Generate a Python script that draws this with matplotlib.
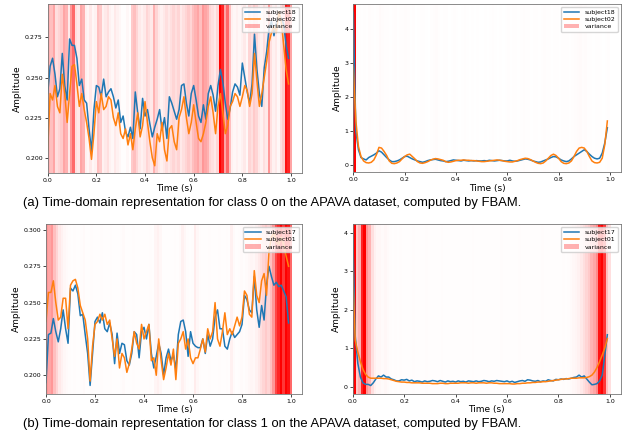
import numpy as np
import matplotlib
matplotlib.use("Agg")
import matplotlib.pyplot as plt
from matplotlib.colors import LinearSegmentedColormap, PowerNorm
from matplotlib.patches import Patch
from matplotlib.lines import Line2D
from matplotlib.ticker import MultipleLocator

# time grid (100 samples over 1 s)
t = np.arange(100) / 100

# ---- class 0, time domain (top left)
c0_s18 = [0.240, 0.257, 0.262, 0.252, 0.238, 0.243, 0.265, 0.245, 0.236, 0.274,
          0.270, 0.270, 0.262, 0.245, 0.249, 0.236, 0.234, 0.218, 0.204, 0.230,
          0.245, 0.244, 0.238, 0.249, 0.238, 0.241, 0.243, 0.238, 0.231, 0.236,
          0.222, 0.226, 0.216, 0.213, 0.219, 0.212, 0.241, 0.228, 0.218, 0.237,
          0.226, 0.230, 0.221, 0.213, 0.219, 0.224, 0.230, 0.217, 0.225, 0.212,
          0.238, 0.234, 0.229, 0.224, 0.230, 0.245, 0.246, 0.234, 0.226, 0.240,
          0.245, 0.236, 0.226, 0.222, 0.233, 0.224, 0.240, 0.245, 0.239, 0.229,
          0.245, 0.255, 0.247, 0.234, 0.224, 0.231, 0.241, 0.246, 0.244, 0.239,
          0.259, 0.250, 0.241, 0.234, 0.246, 0.277, 0.255, 0.240, 0.232, 0.256,
          0.266, 0.281, 0.285, 0.276, 0.284, 0.289, 0.287, 0.283, 0.270, 0.262]
c0_s02 = [0.205, 0.240, 0.236, 0.245, 0.232, 0.228, 0.252, 0.240, 0.222, 0.240,
          0.257, 0.258, 0.246, 0.232, 0.240, 0.230, 0.222, 0.212, 0.199, 0.215,
          0.235, 0.228, 0.240, 0.230, 0.232, 0.238, 0.236, 0.225, 0.220, 0.228,
          0.215, 0.212, 0.218, 0.208, 0.215, 0.205, 0.218, 0.228, 0.213, 0.220,
          0.235, 0.222, 0.210, 0.200, 0.195, 0.215, 0.210, 0.222, 0.205, 0.198,
          0.218, 0.220, 0.210, 0.205, 0.225, 0.230, 0.238, 0.225, 0.215, 0.222,
          0.233, 0.222, 0.212, 0.210, 0.215, 0.222, 0.232, 0.238, 0.228, 0.215,
          0.232, 0.240, 0.228, 0.215, 0.220, 0.232, 0.235, 0.240, 0.238, 0.232,
          0.238, 0.245, 0.242, 0.232, 0.240, 0.265, 0.248, 0.232, 0.240, 0.250,
          0.260, 0.272, 0.278, 0.282, 0.278, 0.291, 0.285, 0.270, 0.255, 0.246]
c0_var = [0.45, 0.40, 0.50, 0.25, 0.30, 0.35, 0.50, 0.45, 0.20, 0.55,
          0.70, 0.25, 0.20, 0.50, 0.45, 0.15, 0.10, 0.20, 0.10, 0.15,
          0.40, 0.35, 0.15, 0.20, 0.25, 0.15, 0.10, 0.20, 0.15, 0.10,
          0.05, 0.05, 0.10, 0.05, 0.35, 0.40, 0.30, 0.20, 0.15, 0.20,
          0.30, 0.25, 0.20, 0.45, 0.30, 0.20, 0.15, 0.20, 0.25, 0.20,
          0.25, 0.30, 0.25, 0.30, 0.20, 0.25, 0.30, 0.35, 0.30, 0.40,
          0.45, 0.50, 0.40, 0.55, 0.50, 0.45, 0.30, 0.25, 0.20, 0.30,
          1.00, 0.90, 0.50, 0.70, 0.40, 0.15, 0.10, 0.15, 0.10, 0.15,
          0.20, 0.10, 0.30, 0.25, 0.35, 0.30, 0.20, 0.15, 0.25, 0.20,
          0.55, 0.25, 0.15, 0.20, 0.10, 0.25, 0.35, 0.95, 0.90, 0.50]

# ---- class 0, right panel
c0r_s18 = [4.50, 1.00, 0.45, 0.22, 0.18, 0.15, 0.22, 0.26, 0.30, 0.35,
           0.42, 0.38, 0.30, 0.22, 0.15, 0.10, 0.10, 0.12, 0.15, 0.20,
           0.25, 0.26, 0.22, 0.18, 0.15, 0.12, 0.10, 0.08, 0.10, 0.13,
           0.15, 0.16, 0.17, 0.15, 0.13, 0.12, 0.10, 0.11, 0.13, 0.15,
           0.14, 0.13, 0.12, 0.14, 0.13, 0.12, 0.13, 0.12, 0.13, 0.12,
           0.12, 0.13, 0.12, 0.14, 0.13, 0.12, 0.13, 0.14, 0.13, 0.12,
           0.12, 0.14, 0.12, 0.11, 0.12, 0.14, 0.16, 0.18, 0.17, 0.15,
           0.12, 0.10, 0.08, 0.09, 0.12, 0.15, 0.18, 0.22, 0.25, 0.24,
           0.20, 0.15, 0.12, 0.10, 0.12, 0.18, 0.25, 0.30, 0.35, 0.40,
           0.45, 0.40, 0.32, 0.25, 0.20, 0.18, 0.20, 0.35, 0.65, 1.10]
c0r_s02 = [2.90, 1.30, 0.55, 0.25, 0.12, 0.07, 0.06, 0.08, 0.15, 0.30,
           0.52, 0.50, 0.40, 0.28, 0.12, 0.05, 0.04, 0.06, 0.10, 0.18,
           0.25, 0.30, 0.32, 0.25, 0.18, 0.10, 0.06, 0.05, 0.07, 0.10,
           0.14, 0.17, 0.19, 0.18, 0.16, 0.14, 0.10, 0.08, 0.09, 0.11,
           0.13, 0.14, 0.14, 0.15, 0.14, 0.14, 0.13, 0.13, 0.12, 0.11,
           0.10, 0.10, 0.11, 0.12, 0.13, 0.14, 0.15, 0.14, 0.13, 0.11,
           0.10, 0.09, 0.09, 0.11, 0.13, 0.16, 0.18, 0.20, 0.19, 0.16,
           0.12, 0.08, 0.05, 0.04, 0.06, 0.12, 0.20, 0.28, 0.32, 0.28,
           0.20, 0.10, 0.05, 0.04, 0.06, 0.12, 0.25, 0.40, 0.50, 0.52,
           0.50, 0.40, 0.25, 0.12, 0.07, 0.06, 0.08, 0.20, 0.60, 1.30]
c0r_var = [1.00, 0.08, 0.04, 0.03, 0.05, 0.03, 0.06, 0.04, 0.03, 0.05,
           0.08, 0.06, 0.04, 0.05, 0.03, 0.04, 0.06, 0.03, 0.05, 0.04,
           0.06, 0.05, 0.03, 0.04, 0.02, 0.03, 0.05, 0.04, 0.03, 0.02,
           0.04, 0.06, 0.07, 0.04, 0.03, 0.05, 0.04, 0.02, 0.03, 0.04,
           0.03, 0.02, 0.03, 0.04, 0.03, 0.02, 0.03, 0.02, 0.03, 0.02,
           0.02, 0.03, 0.02, 0.03, 0.04, 0.03, 0.02, 0.03, 0.02, 0.03,
           0.04, 0.03, 0.05, 0.04, 0.03, 0.04, 0.06, 0.05, 0.04, 0.03,
           0.04, 0.05, 0.03, 0.04, 0.06, 0.05, 0.04, 0.03, 0.05, 0.04,
           0.03, 0.04, 0.05, 0.04, 0.03, 0.05, 0.06, 0.07, 0.08, 0.06,
           0.07, 0.05, 0.04, 0.03, 0.05, 0.04, 0.03, 0.02, 0.03, 0.04]

# ---- class 1, time domain (bottom left)
c1_s17 = [0.195, 0.228, 0.229, 0.239, 0.230, 0.223, 0.232, 0.245, 0.232, 0.222,
          0.260, 0.258, 0.262, 0.256, 0.241, 0.242, 0.228, 0.215, 0.193, 0.215,
          0.237, 0.240, 0.236, 0.243, 0.232, 0.230, 0.236, 0.228, 0.208, 0.229,
          0.215, 0.222, 0.221, 0.210, 0.207, 0.215, 0.230, 0.228, 0.212, 0.230,
          0.233, 0.225, 0.235, 0.215, 0.205, 0.213, 0.222, 0.215, 0.200, 0.212,
          0.218, 0.210, 0.214, 0.204, 0.228, 0.237, 0.238, 0.230, 0.213, 0.230,
          0.222, 0.220, 0.219, 0.219, 0.225, 0.215, 0.228, 0.220, 0.225, 0.240,
          0.245, 0.232, 0.232, 0.220, 0.218, 0.225, 0.230, 0.226, 0.228, 0.230,
          0.235, 0.255, 0.252, 0.245, 0.243, 0.268, 0.245, 0.233, 0.248, 0.238,
          0.262, 0.275, 0.268, 0.262, 0.264, 0.261, 0.262, 0.258, 0.254, 0.236]
c1_s01 = [0.237, 0.257, 0.257, 0.265, 0.250, 0.238, 0.240, 0.253, 0.253, 0.232,
          0.262, 0.265, 0.266, 0.260, 0.248, 0.243, 0.238, 0.225, 0.196, 0.220,
          0.235, 0.237, 0.242, 0.238, 0.242, 0.235, 0.238, 0.225, 0.213, 0.225,
          0.205, 0.215, 0.212, 0.202, 0.208, 0.218, 0.230, 0.222, 0.218, 0.235,
          0.225, 0.230, 0.235, 0.210, 0.212, 0.200, 0.225, 0.210, 0.197, 0.205,
          0.215, 0.207, 0.218, 0.197, 0.222, 0.225, 0.230, 0.218, 0.225, 0.212,
          0.208, 0.212, 0.212, 0.218, 0.225, 0.216, 0.232, 0.225, 0.230, 0.250,
          0.225, 0.220, 0.230, 0.243, 0.228, 0.232, 0.228, 0.234, 0.240, 0.234,
          0.240, 0.258, 0.255, 0.242, 0.240, 0.272, 0.255, 0.250, 0.265, 0.270,
          0.255, 0.285, 0.295, 0.298, 0.292, 0.290, 0.295, 0.290, 0.282, 0.275]
c1_var = [0.55, 0.50, 0.55, 0.40, 0.30, 0.20, 0.15, 0.10, 0.08, 0.06,
          0.05, 0.06, 0.04, 0.05, 0.06, 0.08, 0.05, 0.04, 0.06, 0.05,
          0.04, 0.05, 0.06, 0.04, 0.05, 0.04, 0.06, 0.05, 0.04, 0.05,
          0.06, 0.08, 0.05, 0.04, 0.05, 0.06, 0.05, 0.04, 0.05, 0.04,
          0.05, 0.04, 0.06, 0.05, 0.12, 0.15, 0.10, 0.05, 0.04, 0.05,
          0.04, 0.05, 0.06, 0.05, 0.08, 0.15, 0.10, 0.06, 0.05, 0.06,
          0.18, 0.10, 0.06, 0.05, 0.04, 0.05, 0.06, 0.05, 0.04, 0.05,
          0.06, 0.05, 0.04, 0.06, 0.05, 0.15, 0.08, 0.05, 0.06, 0.08,
          0.06, 0.08, 0.10, 0.12, 0.10, 0.15, 0.20, 0.25, 0.30, 0.35,
          0.30, 0.40, 0.55, 0.80, 0.90, 1.00, 0.85, 1.00, 0.95, 0.70]

# ---- class 1, right panel
c1r_s17 = [4.00, 1.30, 0.60, 0.25, 0.10, 0.06, 0.06, 0.03, 0.10, 0.20,
           0.28, 0.25, 0.30, 0.25, 0.25, 0.20, 0.18, 0.15, 0.15, 0.18,
           0.17, 0.19, 0.15, 0.17, 0.13, 0.15, 0.14, 0.12, 0.15, 0.13,
           0.14, 0.16, 0.15, 0.13, 0.16, 0.14, 0.12, 0.15, 0.13, 0.14,
           0.12, 0.15, 0.13, 0.14, 0.12, 0.15, 0.14, 0.13, 0.15, 0.13,
           0.14, 0.16, 0.15, 0.13, 0.15, 0.14, 0.16, 0.15, 0.14, 0.13,
           0.15, 0.12, 0.14, 0.11, 0.13, 0.15, 0.16, 0.14, 0.18, 0.17,
           0.15, 0.14, 0.16, 0.13, 0.15, 0.14, 0.18, 0.16, 0.15, 0.19,
           0.18, 0.20, 0.19, 0.21, 0.20, 0.22, 0.24, 0.25, 0.30, 0.25,
           0.28, 0.20, 0.12, 0.05, 0.06, 0.08, 0.15, 0.30, 0.80, 1.35]
c1r_s01 = [3.00, 1.20, 0.90, 0.65, 0.45, 0.32, 0.25, 0.22, 0.22, 0.22,
           0.22, 0.22, 0.21, 0.21, 0.20, 0.18, 0.16, 0.14, 0.13, 0.12,
           0.12, 0.11, 0.11, 0.10, 0.10, 0.10, 0.10, 0.09, 0.09, 0.09,
           0.09, 0.08, 0.08, 0.08, 0.09, 0.09, 0.08, 0.08, 0.09, 0.09,
           0.09, 0.09, 0.10, 0.10, 0.10, 0.09, 0.10, 0.10, 0.09, 0.10,
           0.10, 0.10, 0.09, 0.10, 0.10, 0.09, 0.09, 0.08, 0.08, 0.08,
           0.08, 0.08, 0.07, 0.07, 0.08, 0.08, 0.09, 0.09, 0.10, 0.10,
           0.11, 0.11, 0.12, 0.12, 0.13, 0.13, 0.14, 0.15, 0.16, 0.17,
           0.18, 0.19, 0.20, 0.20, 0.21, 0.22, 0.22, 0.22, 0.23, 0.23,
           0.23, 0.24, 0.26, 0.30, 0.38, 0.50, 0.65, 0.82, 1.00, 1.25]
c1r_var = [1.00, 0.35, 0.45, 0.90, 1.00, 0.55, 0.45, 0.25, 0.15, 0.10,
           0.10, 0.08, 0.10, 0.08, 0.06, 0.05, 0.06, 0.05, 0.06, 0.05,
           0.05, 0.04, 0.05, 0.06, 0.04, 0.05, 0.04, 0.05, 0.06, 0.04,
           0.05, 0.04, 0.05, 0.04, 0.06, 0.05, 0.04, 0.05, 0.04, 0.05,
           0.04, 0.05, 0.04, 0.05, 0.04, 0.05, 0.06, 0.04, 0.05, 0.04,
           0.05, 0.04, 0.05, 0.04, 0.05, 0.04, 0.05, 0.06, 0.04, 0.05,
           0.04, 0.05, 0.04, 0.05, 0.06, 0.04, 0.05, 0.04, 0.05, 0.04,
           0.05, 0.04, 0.05, 0.06, 0.04, 0.05, 0.04, 0.05, 0.04, 0.05,
           0.05, 0.06, 0.05, 0.06, 0.08, 0.10, 0.12, 0.15, 0.20, 0.25,
           0.30, 0.35, 0.45, 0.50, 0.60, 0.95, 1.00, 0.85, 0.40, 0.25]

captions = ["(a) Time-domain representation for class 0 on the APAVA dataset, computed by FBAM.",
            "(b) Time-domain representation for class 1 on the APAVA dataset, computed by FBAM."]

reds = LinearSegmentedColormap.from_list("wr", ["#ffffff", "#ff0000"])


def panel(rect, a, b, var, names, ylim, xmax, ystep):
    ax = fig.add_axes(rect)
    ax.imshow(np.array(var)[np.newaxis, :], extent=[0, 1.0, ylim[0], ylim[1]],
              aspect='auto', cmap=reds, norm=PowerNorm(1.5, vmin=0, vmax=1),
              interpolation='nearest', zorder=0)
    ax.plot(t, a, color='#1f77b4', lw=1.1, zorder=2)
    ax.plot(t, b, color='#ff7f0e', lw=1.1, zorder=2)
    ax.set_xlim(0, xmax)
    ax.set_ylim(*ylim)
    ax.set_xticks([0, 0.2, 0.4, 0.6, 0.8, 1.0])
    ax.yaxis.set_major_locator(MultipleLocator(ystep))
    ax.tick_params(labelsize=4.5, length=2, width=0.5, pad=1.5)
    ax.set_xlabel('Time (s)', fontsize=6.5, labelpad=1)
    ax.set_ylabel('Amplitude', fontsize=6.5, labelpad=2)
    for s in ax.spines.values():
        s.set_color('#777777')
        s.set_linewidth(0.6)
    handles = [Line2D([], [], color='#1f77b4', lw=1.1),
               Line2D([], [], color='#ff7f0e', lw=1.1),
               Patch(facecolor='red', alpha=0.3)]
    ax.legend(handles, [names[0], names[1], 'variance'], loc='upper right',
              fontsize=4.5, handlelength=2.5, borderpad=0.4, labelspacing=0.3,
              framealpha=0.8)
    return ax


W, H = 623, 440
fig = plt.figure(figsize=(W / 100, H / 100), dpi=100)

panel([47.7 / W, 1 - 173 / H, 254 / W, 169 / H], c0_s18, c0_s02, c0_var,
      ['subject18', 'subject02'], (0.1905, 0.2958), 1.044, 0.025)
panel([353.3 / W, 1 - 172.3 / H, 267.4 / W, 168.3 / H], c0r_s18, c0r_s02, c0r_var,
      ['subject18', 'subject02'], (-0.215, 4.75), 1.042, 1)
panel([46 / W, 1 - 394 / H, 256.3 / W, 170 / H], c1_s17, c1_s01, c1_var,
      ['subject17', 'subject01'], (0.1871, 0.3041), 1.046, 0.025)
panel([352.7 / W, 1 - 394 / H, 268 / W, 170 / H], c1r_s17, c1r_s01, c1r_var,
      ['subject17', 'subject01'], (-0.19, 4.226), 1.042, 1)

fig.text(23 / W, 1 - 203 / H, captions[0], fontsize=9.4, family='Liberation Sans',
         ha='left', va='center')
fig.text(23 / W, 1 - 424 / H, captions[1], fontsize=9.4, family='Liberation Sans',
         ha='left', va='center')

fig.savefig('out.png', dpi=100)
